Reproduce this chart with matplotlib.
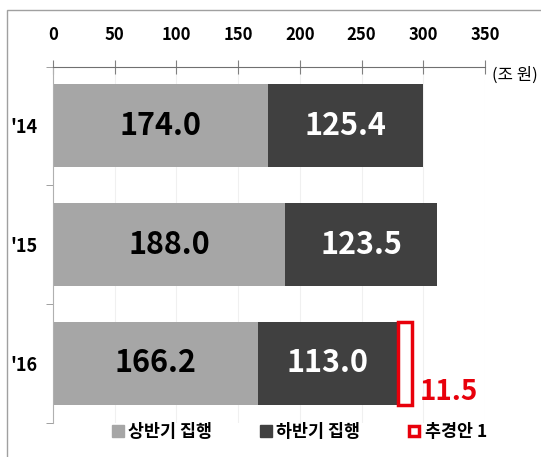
import matplotlib
matplotlib.use("Agg")
import matplotlib.pyplot as plt
from matplotlib.patches import Rectangle
from matplotlib.lines import Line2D

plt.rcParams['font.family'] = ['Noto Sans CJK KR', 'DejaVu Sans']

years = ["'14", "'15", "'16"]
first_half = [174.0, 188.0, 166.2]
second_half = [125.4, 123.5, 113.0]
supplement = [0, 0, 11.5]
xticks = [0, 50, 100, 150, 200, 250, 300, 350]
legend_labels = ['상반기 집행', '하반기 집행', '추경안 1']
unit_label = '(조 원)'

c_gray = '#a6a6a6'
c_dark = '#404040'
c_red = '#e8000b'

W, H = 541, 457
fig = plt.figure(figsize=(W/100, H/100), dpi=100)
ax = fig.add_axes([53/W, 1-422.5/H, (485-53)/W, (422.5-66.5)/H])

y = list(range(len(years)))
h = 0.70
ax.barh(y, first_half, height=h, color=c_gray, zorder=2)
ax.barh(y, second_half, left=first_half, height=h, color=c_dark, zorder=2)
lefts = [a + b for a, b in zip(first_half, second_half)]
for i, s in enumerate(supplement):
    if s > 0:
        ax.barh(i, s, left=lefts[i], height=h, color='white', edgecolor=c_red,
                linewidth=2.5, zorder=3)
        ax.annotate(f'{s:.1f}', xy=(lefts[i] + s, i + h/2), xytext=(6, -1),
                    textcoords='offset points', ha='left', va='bottom',
                    color=c_red, fontsize=20, fontweight='bold')

for i in y:
    ax.text(first_half[i]/2, i, f'{first_half[i]:.1f}', ha='center', va='center',
            color='black', fontsize=22, fontweight='bold', zorder=4)
    ax.text(first_half[i] + second_half[i]/2, i, f'{second_half[i]:.1f}', ha='center',
            va='center', color='white', fontsize=22, fontweight='bold', zorder=4)

ax.set_xlim(0, 350)
ax.set_ylim(2.5, -0.5)
ax.xaxis.tick_top()
ax.set_xticks(xticks)
ax.set_xticklabels([str(t) for t in xticks], fontsize=12, fontweight='bold')
ax.tick_params(axis='x', direction='inout', length=10, width=0.8, color='#808080', pad=11)
ax.set_yticks(y)
ax.set_yticklabels(years, fontsize=13, fontweight='bold')
ax.tick_params(axis='y', length=0, pad=11)
ax.set_yticks([-0.5, 0.5, 1.5, 2.5], minor=True)
ax.tick_params(axis='y', which='minor', length=5, color='#909090', direction='out')
for sp in ['right', 'bottom']:
    ax.spines[sp].set_visible(False)
ax.spines['top'].set_color('#707070')
ax.spines['top'].set_linewidth(0.8)
ax.spines['left'].set_color('#b0b0b0')
ax.spines['left'].set_linewidth(0.8)
for t in xticks[1:]:
    ax.axvline(t, color='#f0f0f0', linewidth=0.8, zorder=0)

fig.text(492/W, 1-75/H, unit_label, fontsize=12, ha='left', va='center')

# outer frame
fig.add_artist(Rectangle((7/W, -0.1), 1.2, 1 - 10/H + 0.1, transform=fig.transFigure,
                         fill=False, edgecolor='#a0a0a0', linewidth=1))

handles = [
    Line2D([], [], marker='s', linestyle='none', markersize=8, markerfacecolor=c_gray, markeredgecolor=c_gray),
    Line2D([], [], marker='s', linestyle='none', markersize=8, markerfacecolor=c_dark, markeredgecolor=c_dark),
    Line2D([], [], marker='s', linestyle='none', markersize=7, markerfacecolor='white', markeredgecolor=c_red, markeredgewidth=2.5),
]
fig.legend(handles, legend_labels, loc='center', bbox_to_anchor=(298/W, 1-432/H), ncol=3,
           frameon=False, prop={'size': 12.5, 'weight': 'bold'}, handletextpad=0.1,
           columnspacing=2.6, handlelength=1.0)

fig.savefig('out.png', dpi=100)
